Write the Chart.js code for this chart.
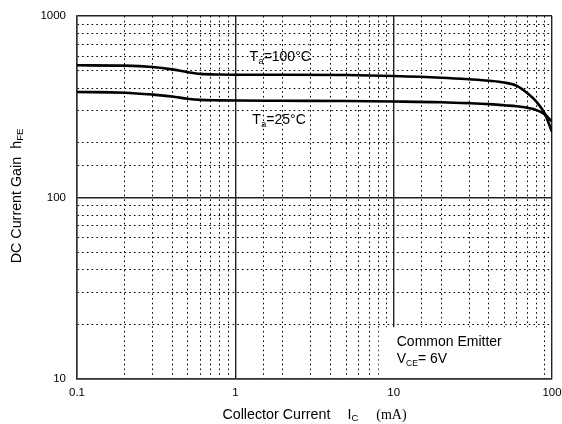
<!DOCTYPE html>
<html>
<head>
<meta charset="utf-8">
<script src="https://cdn.jsdelivr.net/npm/chart.js@4.4.1/dist/chart.umd.min.js"></script>
<style>
	html, body { margin: 0; padding: 0; background: #fff; }
	#wrap { width: 562px; height: 424px; }
</style>
</head>
<body>
<div id="wrap"><canvas id="gainChart"></canvas></div>
<script>
// Collector current (mA) and hFE
const currentMA = [0.1, 0.2, 0.3, 0.4, 0.5, 0.6, 0.8, 1, 2, 5, 10, 20, 30, 40, 50, 60, 70, 80, 90, 100];
const gainTa100 = [535, 533, 524, 508, 490, 480, 476, 475, 475, 473, 467, 457, 448, 440, 430, 412, 375, 336, 290, 230];
const gainTa25 = [381, 378, 369, 360, 350, 345, 343, 342, 341, 340, 338, 335, 331, 327, 322, 318, 312, 303, 287, 262];

const xMajorTicks = [0.1, 1, 10, 100];
const yMajorTicks = [10, 100, 1000];

const SANS = '"Liberation Sans", Arial, sans-serif';
const SERIF = '"Liberation Serif", "Times New Roman", serif';

function isMajor(v, majors) {
	return majors.some(m => Math.abs(v - m) / m < 1e-6);
}

function toPoints(ys) {
	return currentMA.map((x, i) => ({ x: x, y: ys[i] }));
}

// draws a row of text pieces; each piece may have its own font, gap and baseline shift
function drawPieces(ctx, x, y, pieces, align) {
	let total = 0;
	pieces.forEach(p => {
		ctx.font = p.font;
		p.w = ctx.measureText(p.t).width;
		total += (p.gap || 0) + p.w;
	});
	let cx = align === 'center' ? x - total / 2 : x;
	ctx.textAlign = 'left';
	ctx.textBaseline = 'middle';
	pieces.forEach(p => {
		cx += p.gap || 0;
		ctx.font = p.font;
		ctx.fillText(p.t, cx, y + (p.dy || 0));
		cx += p.w;
	});
}

const annotations = {
	id: 'annotations',
	beforeDatasetsDraw(chart) {
		const ctx = chart.ctx;
		const xs = chart.scales.x, ys = chart.scales.y;
		// white legend box, bottom right
		const left = xs.getPixelForValue(8.05);
		const right = xs.getPixelForValue(87.5);
		const top = ys.getPixelForValue(19.3);
		const bottom = ys.getPixelForValue(10) - 1;
		ctx.save();
		ctx.fillStyle = '#fff';
		ctx.fillRect(left, top, right - left, bottom - top);
		ctx.fillStyle = '#000';
		drawPieces(ctx, left + 18, top + 15, [{ t: 'Common Emitter', font: '14px ' + SANS }], 'left');
		drawPieces(ctx, left + 18, top + 32, [
			{ t: 'V', font: '14px ' + SANS },
			{ t: 'CE', font: '8.5px ' + SANS, dy: 4 },
			{ t: '= 6V', font: '14px ' + SANS }
		], 'left');
		ctx.restore();
	},
	afterDraw(chart) {
		const ctx = chart.ctx;
		const xs = chart.scales.x, ys = chart.scales.y;
		const area = chart.chartArea;
		ctx.save();
		ctx.fillStyle = '#000';
		// curve labels
		drawPieces(ctx, xs.getPixelForValue(1.23), ys.getPixelForValue(594), [
			{ t: 'T', font: '14px ' + SANS },
			{ t: 'a', font: '9px ' + SANS, dy: 4, gap: 0.5 },
			{ t: '=100\u00b0C', font: '14px ' + SANS }
		], 'left');
		drawPieces(ctx, xs.getPixelForValue(1.28), ys.getPixelForValue(266), [
			{ t: 'T', font: '14px ' + SANS },
			{ t: 'a', font: '9px ' + SANS, dy: 4, gap: 0.5 },
			{ t: '=25\u00b0C', font: '14px ' + SANS }
		], 'left');
		// x axis title
		drawPieces(ctx, (area.left + area.right) / 2, 415.5, [
			{ t: 'Collector Current', font: '14.3px ' + SANS },
			{ t: 'I', font: '14.3px ' + SANS, gap: 17 },
			{ t: 'C', font: '9.5px ' + SANS, dy: 3 },
			{ t: '(mA)', font: '14px ' + SERIF, gap: 18 }
		], 'center');
		// y axis title
		ctx.translate(17.5, 196);
		ctx.rotate(-Math.PI / 2);
		drawPieces(ctx, 0, 0, [
			{ t: 'DC Current Gain', font: '14.3px ' + SANS },
			{ t: 'h', font: '14.3px ' + SANS, gap: 8 },
			{ t: 'FE', font: '9.5px ' + SANS, dy: 3 }
		], 'center');
		ctx.restore();
	}
};

function gridStyle(majors) {
	return {
		grid: {
			drawTicks: false,
			color: c => (c.tick && isMajor(c.tick.value, majors)) ? '#222' : '#000',
			lineWidth: c => (c.tick && isMajor(c.tick.value, majors)) ? 1.4 : 1
		},
		border: {
			color: '#333',
			width: 1.5,
			dash: c => (c.tick && !isMajor(c.tick.value, majors)) ? [1.6, 3.1] : []
		}
	};
}

const ctxEl = document.getElementById('gainChart');
ctxEl.chart = new Chart(ctxEl, {
	type: 'line',
	data: {
		datasets: [{
			label: 'Ta=100°C',
			data: toPoints(gainTa100),
			borderColor: '#000',
			borderWidth: 2.6,
			pointRadius: 0,
			cubicInterpolationMode: 'monotone'
		}, {
			label: 'Ta=25°C',
			data: toPoints(gainTa25),
			borderColor: '#000',
			borderWidth: 2.6,
			pointRadius: 0,
			cubicInterpolationMode: 'monotone'
		}]
	},
	options: {
		responsive: true,
		maintainAspectRatio: false,
		animation: false,
		layout: {
			padding: { left: 0, right: 10, top: 16, bottom: 0 }
		},
		plugins: {
			legend: { display: false },
			tooltip: { enabled: false }
		},
		scales: {
			x: Object.assign({
				type: 'logarithmic',
				min: 0.1,
				max: 100,
				afterFit: s => { s.height = 45; s.paddingLeft = 0; s.paddingRight = 0; },
				ticks: {
					autoSkip: false,
					maxRotation: 0,
					padding: 7,
					color: '#000',
					font: { family: SANS, size: 11.5 },
					callback: v => isMajor(v, xMajorTicks) ? String(v) : ''
				}
			}, gridStyle(xMajorTicks)),
			y: Object.assign({
				type: 'logarithmic',
				min: 10,
				max: 1000,
				afterFit: s => { s.width = 77; s.paddingTop = 0; s.paddingBottom = 0; },
				ticks: {
					autoSkip: false,
					padding: 11,
					color: '#000',
					font: { family: SANS, size: 11.5 },
					callback: v => isMajor(v, yMajorTicks) ? String(v) : ''
				}
			}, gridStyle(yMajorTicks))
		}
	},
	plugins: [annotations]
});
</script>
</body>
</html>
